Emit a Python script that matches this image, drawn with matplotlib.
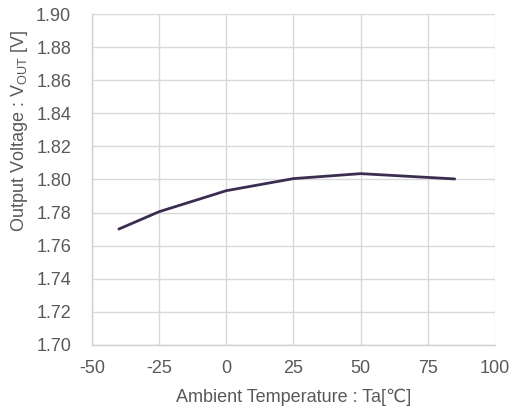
import matplotlib
matplotlib.use("Agg")
import matplotlib.pyplot as plt

temps = [-40, -25, 0, 25, 50, 85]
vout = [1.770, 1.7805, 1.7932, 1.8005, 1.8035, 1.8003]
xticks = [-50, -25, 0, 25, 50, 75, 100]
yticks = [1.70, 1.72, 1.74, 1.76, 1.78, 1.80, 1.82, 1.84, 1.86, 1.88, 1.90]

plt.rcParams['font.family'] = ['Liberation Sans', 'DejaVu Sans']
plt.rcParams['mathtext.fontset'] = 'custom'
plt.rcParams['mathtext.rm'] = 'Liberation Sans'
plt.rcParams['mathtext.it'] = 'Liberation Sans'

txt = '#595959'
fig = plt.figure(figsize=(5.14, 4.12), dpi=100)
ax = fig.add_axes([0.179, 0.163, 0.784, 0.803])
ax.plot(temps, vout, color='#3b2d50', lw=2.0, solid_capstyle='round', zorder=3)
ax.set_xlim(-50, 100)
ax.set_ylim(1.70, 1.90)
ax.set_xticks(xticks)
ax.set_yticks(yticks)
ax.set_xticklabels([str(t) for t in xticks])
ax.set_yticklabels([f"{v:.2f}" for v in yticks])
ax.grid(True, color='#d9d9d9', lw=1.0)
ax.set_axisbelow(True)
for s in ['top', 'right']:
    ax.spines[s].set_visible(False)
for s in ['left', 'bottom']:
    ax.spines[s].set_color('#d0d0d0')
    ax.spines[s].set_linewidth(1.0)
ax.tick_params(axis='both', length=0, labelsize=13, colors=txt)
ax.tick_params(axis='y', pad=15)
ax.tick_params(axis='x', pad=11)
ax.set_xlabel('Ambient Temperature : Ta[\u2103]', fontsize=13, color=txt, va='center')
ax.set_ylabel(r'Output Voltage : V$_{\mathrm{OUT}}$ [V]', fontsize=13, color=txt, va='center')
ax.xaxis.set_label_coords(0.5, -0.160)
ax.yaxis.set_label_coords(-0.179, 0.647)
fig.savefig('out.png', dpi=100)
